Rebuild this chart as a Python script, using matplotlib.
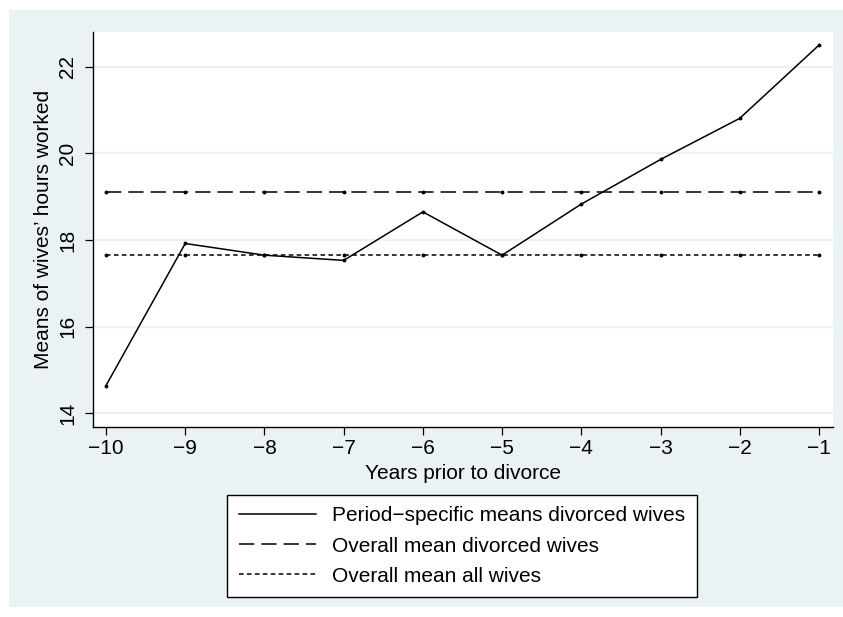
import matplotlib
matplotlib.use("Agg")
import matplotlib.pyplot as plt
from matplotlib.patches import Rectangle

# Hours worked by wives in the ten years before divorce
years = [-10, -9, -8, -7, -6, -5, -4, -3, -2, -1]
period_means = [14.64, 17.92, 17.65, 17.53, 18.65, 17.65, 18.83, 19.86, 20.81, 22.50]
overall_divorced = 19.10
overall_all = 17.65

y_ticks = [14, 16, 18, 20, 22]
x_ticks = years

labels = ["Period\u2212specific means divorced wives",
          "Overall mean divorced wives",
          "Overall mean all wives"]

BG = "#eaf2f3"
FS = 15

plt.rcParams["font.family"] = ["Liberation Sans", "DejaVu Sans"]
plt.rcParams["font.size"] = FS

fig = plt.figure(figsize=(8.43, 6.17), dpi=100)
fig.patch.set_facecolor("white")

# shaded graph region behind the plot
W, H = 843.0, 617.0
fig.patches.append(Rectangle((9 / W, (H - 607) / H), (843 - 9) / W, (607 - 10) / H,
                             transform=fig.transFigure, facecolor=BG,
                             edgecolor="none", zorder=-10))

ax = fig.add_axes([92.7 / W, (H - 426.7) / H, (833 - 92.7) / W, (426.7 - 31.7) / H])
ax.set_facecolor("white")

for y in y_ticks:
    ax.axhline(y, color=BG, lw=1.6, zorder=1)

ax.plot(years, period_means, color="black", lw=1.1, marker="o", ms=1.8,
        label=labels[0], zorder=3)
ax.plot(years, [overall_divorced] * len(years), color="black", lw=1.1,
        dashes=(10, 4.6), marker="o", ms=1.8, label=labels[1], zorder=3)
ax.plot(years, [overall_all] * len(years), color="black", lw=1.1,
        dashes=(3.0, 2.2), marker="o", ms=1.8, label=labels[2], zorder=3)

ax.set_xlim(-10.168, -0.823)
ax.set_ylim(13.69, 22.81)
ax.set_xticks(x_ticks)
ax.set_yticks(y_ticks)
ax.set_yticklabels([str(t) for t in y_ticks], rotation=90, va="center")

for side in ["top", "right"]:
    ax.spines[side].set_visible(False)
for side in ["left", "bottom"]:
    ax.spines[side].set_linewidth(1.0)
ax.tick_params(direction="out", length=6, width=0.9, labelsize=FS)
ax.tick_params(axis="x", pad=3)
ax.tick_params(axis="y", pad=5)

ax.set_xlabel("Years prior to divorce", fontsize=FS, labelpad=4)
ax.set_ylabel("Means of wives\u2019 hours worked", fontsize=FS, labelpad=4)

leg = ax.legend(loc="center", bbox_to_anchor=(462 / W, (H - 546) / H),
                bbox_transform=fig.transFigure, ncol=1, frameon=True,
                fancybox=False, shadow=False, framealpha=1, fontsize=FS,
                handlelength=3.7, handletextpad=0.8, labelspacing=0.54,
                borderpad=0.55)
for h in leg.legend_handles:
    h.set_marker("")
leg.get_frame().set_edgecolor("black")
leg.get_frame().set_linewidth(1.0)
leg.get_frame().set_facecolor("white")

fig.savefig("out.png", dpi=100)
